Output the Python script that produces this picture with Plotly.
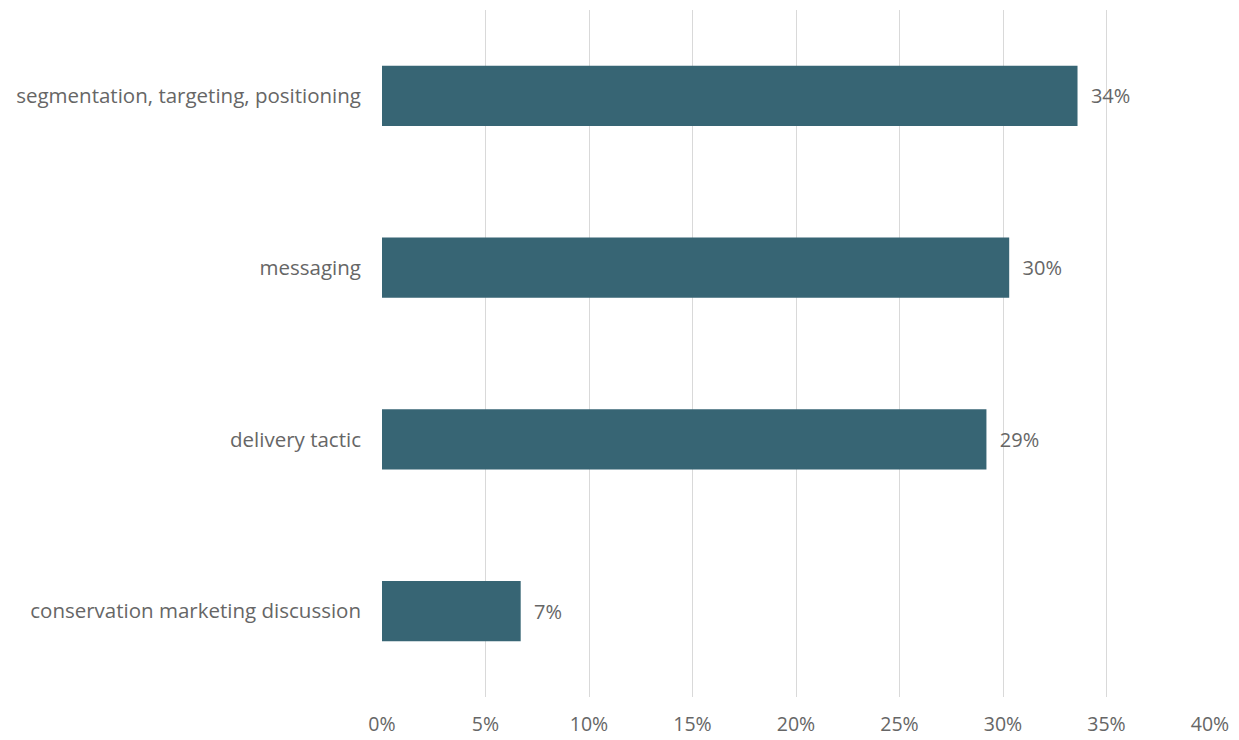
import plotly.graph_objects as go

categories = [
    "segmentation, targeting, positioning",
    "messaging",
    "delivery tactic",
    "conservation marketing discussion",
]
shares = [33.6, 30.3, 29.2, 6.7]  # percent of items
x_ticks = [0, 5, 10, 15, 20, 25, 30, 35, 40]

bar_color = "#376574"
text_color = "#666666"
font_family = "'Open Sans', Lato, sans-serif"

fig = go.Figure(
    go.Bar(
        x=shares,
        y=categories,
        orientation="h",
        marker=dict(color=bar_color, line=dict(width=0)),
        text=[f"  {round(v):.0f}%" for v in shares],
        textposition="outside",
        textfont=dict(family=font_family, size=20, color=text_color),
        cliponaxis=False,
        hoverinfo="skip",
    )
)

fig.update_layout(
    width=1239,
    height=740,
    margin=dict(l=382, r=29, t=10, b=43, autoexpand=False),
    paper_bgcolor="white",
    plot_bgcolor="white",
    bargap=0.65,
    showlegend=False,
    font=dict(family=font_family, size=20, color=text_color),
)

fig.update_xaxes(
    range=[0, 40],
    tickvals=x_ticks,
    ticktext=[f"{t}%" for t in x_ticks],
    showgrid=True,
    gridcolor="#d9d9d9",
    gridwidth=1,
    zeroline=False,
    showline=False,
    ticks="",
    automargin=False,
    tickfont=dict(family=font_family, size=19.5, color=text_color),
    ticklabelstandoff=13,
)

fig.update_yaxes(
    categoryorder="array",
    categoryarray=categories[::-1],
    showgrid=False,
    zeroline=False,
    showline=False,
    ticks="",
    automargin=False,
    ticklabelstandoff=20,
    tickfont=dict(family=font_family, size=20.5, color=text_color),
)

fig.write_html("out.html")
